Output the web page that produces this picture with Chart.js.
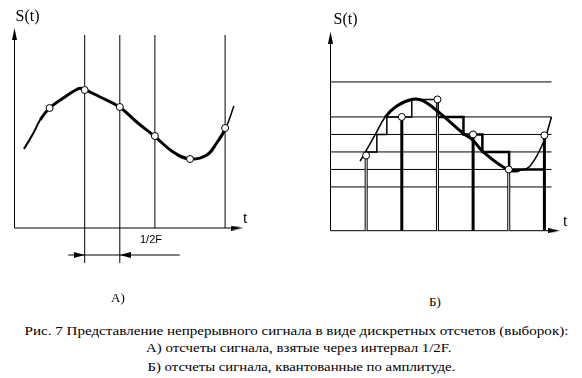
<!DOCTYPE html>
<html><head><meta charset="utf-8">
<script src="https://cdn.jsdelivr.net/npm/chart.js@4"></script>
<style>
html,body{margin:0;padding:0;background:#fff;width:582px;height:378px;overflow:hidden;position:relative}
canvas{position:absolute;top:0}
.lbl{position:absolute;white-space:nowrap;font-family:"Liberation Serif","Tinos","DejaVu Serif","Noto Serif","Times New Roman",Times,serif;color:#000;line-height:1;transform-origin:center center}
</style></head><body>
<canvas id="cl" width="291" height="290" style="left:0"></canvas>
<canvas id="cr" width="291" height="290" style="left:291px"></canvas>
<script>
// ---------- data: panel A (sampling at interval 1/2F) ----------
const leftCurveT  = [0.27, 0.54, 0.73, 1.0, 1.39, 1.77, 1.91, 2.44, 2.99, 3.48, 3.98, 4.52, 4.99, 5.48, 5.76, 6.02, 6.25];
const leftCurveS  = [7.9, 9.5, 10.8, 12.0, 13.0, 13.85, 13.95, 13.1, 12.1, 10.6, 9.2, 7.6, 6.9, 7.3, 8.5, 10.0, 12.2];
const leftSampleT = [1, 2, 3, 4, 5, 6];
const leftSampleS = [12.0, 13.8, 12.1, 9.2, 6.9, 10.0];
const leftGuideT  = [2, 3, 4, 6];
const leftGuideBottom = [-3.5, -3.5, 0, 0];

// ---------- data: panel B (amplitude quantisation) ----------
const rightCurveT  = [0.83, 1.25, 1.53, 1.86, 2.31, 2.59, 3.02, 3.72, 3.99, 4.28, 4.99, 5.3, 5.6, 5.99, 6.2];
const rightCurveS  = [3.98, 5.47, 6.48, 7.13, 7.51, 7.43, 6.8, 5.57, 5.18, 4.51, 3.47, 3.45, 3.7, 5.15, 6.5];
const rightSampleT = [1, 2, 3, 4, 5, 6];
const rightSampleS = [4.3, 6.5, 7.5, 5.5, 3.5, 5.45];
const rightHollow  = [true, false, true, false, true, false];
const rightLevels  = [2.5, 3.5, 4.5, 5.5, 6.5, 8.5];
const stairT = [1.0, 1.30, 1.58, 2.28, 3.02, 3.73, 4.26, 5.01, 5.99];
const stairS = [4.5, 5.5, 6.5, 7.5, 6.5, 5.5, 4.5, 3.5, 3.5];

// ---------- arrowhead glyphs ----------
function arrowImg(w, h) {
  const c = document.createElement('canvas');
  c.width = w; c.height = h;
  const g = c.getContext('2d');
  g.fillStyle = '#000';
  g.beginPath(); g.moveTo(w / 2, 0); g.lineTo(w, h); g.lineTo(0, h); g.closePath(); g.fill();
  return c;
}
const axisArrow = arrowImg(5, 12);
const dimArrow = arrowImg(6, 11);

const zip = (xs, ys) => xs.map((x, i) => ({x, y: ys[i]}));
function seg(points, width, color, order, extra) {
  return Object.assign({type: 'line', data: points, borderColor: color || '#000', borderWidth: width,
    pointRadius: 0, fill: false, tension: 0, order: order, borderCapStyle: 'butt'}, extra || {});
}
function arrows(points, rotations, img) {
  return {type: 'line', data: points, showLine: false, pointStyle: img, pointRadius: 5,
    rotation: rotations, order: 0};
}
function circles(xs, ys) {
  return {type: 'line', data: zip(xs, ys), showLine: false, pointRadius: 3.5, pointHoverRadius: 3.5,
    pointBackgroundColor: '#fff', pointBorderColor: '#000', pointBorderWidth: 1, order: 0};
}
function makeChart(id, xr, yr, datasets) {
  return new Chart(document.getElementById(id), {
    type: 'line',
    data: {datasets},
    options: {
      responsive: false, animation: false, events: [],
      layout: {padding: 0, autoPadding: false},
      plugins: {legend: {display: false}, tooltip: {enabled: false}},
      scales: {
        x: {type: 'linear', display: false, min: xr[0], max: xr[1]},
        y: {type: 'linear', display: false, min: yr[0], max: yr[1]}
      }
    }
  });
}

// ---------- panel A ----------
const lds = [];
lds.push(seg([{x: 0, y: 0}, {x: 0, y: 19.4}], 1, '#000', 5));
lds.push(seg([{x: 0, y: 0}, {x: 6.34, y: 0}], 1, '#000', 5));
leftGuideT.forEach((t, i) => lds.push(seg([{x: t, y: leftGuideBottom[i]}, {x: t, y: 19.3}], 1, '#000', 5)));
lds.push(seg([{x: 1.53, y: -2.7}, {x: 4.71, y: -2.7}], 1, '#000', 5));
lds.push(arrows([{x: 0, y: 19.4}, {x: 6.34, y: 0}], [0, 90], axisArrow));
lds.push(arrows([{x: 1.843, y: -2.7}, {x: 3.157, y: -2.7}], [90, 270], dimArrow));
lds.push(seg(zip(leftCurveT, leftCurveS), 3, '#000', 2, {
  tension: 0.4, borderJoinStyle: 'round',
  segment: {borderWidth: c => (c.p0.parsed.x >= 6.0 ? 1.5 : (c.p0.parsed.x < 0.7 ? 2 : 3))}
}));
lds.push(circles(leftSampleT, leftSampleS));
makeChart('cl', [-14.5 / 35.1, (291 - 14.5) / 35.1], [(228 - 290) / 10, 22.8], lds);

// ---------- panel B ----------
const rds = [];
rds.push(seg([{x: 0, y: 0}, {x: 0, y: 11.03}], 1, '#000', 6));
rds.push(seg([{x: 0, y: 0}, {x: 6.27, y: 0}], 1, '#000', 6));
rightLevels.forEach(L => rds.push(seg([{x: 0, y: L}, {x: 6.2, y: L}], 1, '#000', 6)));
rightSampleT.forEach((t, i) => {
  rds.push(seg([{x: t, y: 0}, {x: t, y: rightSampleS[i]}], 3, '#000', 4));
  if (rightHollow[i]) rds.push(seg([{x: t, y: 0}, {x: t, y: rightSampleS[i]}], 1, '#fff', 3));
});
rds.push(seg(zip(stairT, stairS), 2, '#000', 2, {
  stepped: 'before',
  segment: {borderWidth: c => (c.p0.parsed.x >= 3.0 ? 2.5 : 1.5)}
}));
rds.push(arrows([{x: 0, y: 11.03}, {x: 6.27, y: 0}], [0, 90], axisArrow));
rds.push(seg(zip(rightCurveT, rightCurveS), 3, '#000', 1, {
  tension: 0.4, borderJoinStyle: 'round',
  segment: {borderWidth: c => ((c.p0.parsed.x < 1.5 || c.p0.parsed.x >= 5.3) ? 1.5 : 3)}
}));
rds.push(circles(rightSampleT, rightSampleS));
makeChart('cr', [-39.5 / 35.65, (291 - 39.5) / 35.65], [(230.7 - 290) / 17.5, 230.7 / 17.5], rds);

// ---------- text ----------
function label(txt, cx, cy, size, family, width) {
  const d = document.createElement('div');
  d.className = 'lbl'; d.textContent = txt;
  d.style.fontSize = size + 'px';
  if (family) d.style.fontFamily = family;
  document.body.appendChild(d);
  const w = d.offsetWidth, h = d.offsetHeight;
  d.style.left = (cx - w / 2) + 'px';
  d.style.top = (cy - h / 2) + 'px';
  if (width) d.style.transform = 'scaleX(' + (width / w) + ')';
}
label('S(t)', 27.5, 16, 16);
label('t', 245, 218, 16);
label('1/2F', 151, 239, 11, '"Liberation Sans", Arial, sans-serif');
label('S(t)', 345.5, 19, 16);
label('t', 565, 221, 16);
label('А)', 118, 297, 13);
label('Б)', 435, 301, 13);
label('Рис. 7 Представление непрерывного сигнала в виде дискретных отсчетов (выборок):', 296, 330, 13, null, 544);
label('А) отсчеты сигнала, взятые через интервал 1/2F.', 299, 347, 13, null, 306);
label('Б) отсчеты сигнала, квантованные по амплитуде.', 301, 366, 13, null, 308);
</script>
</body></html>
